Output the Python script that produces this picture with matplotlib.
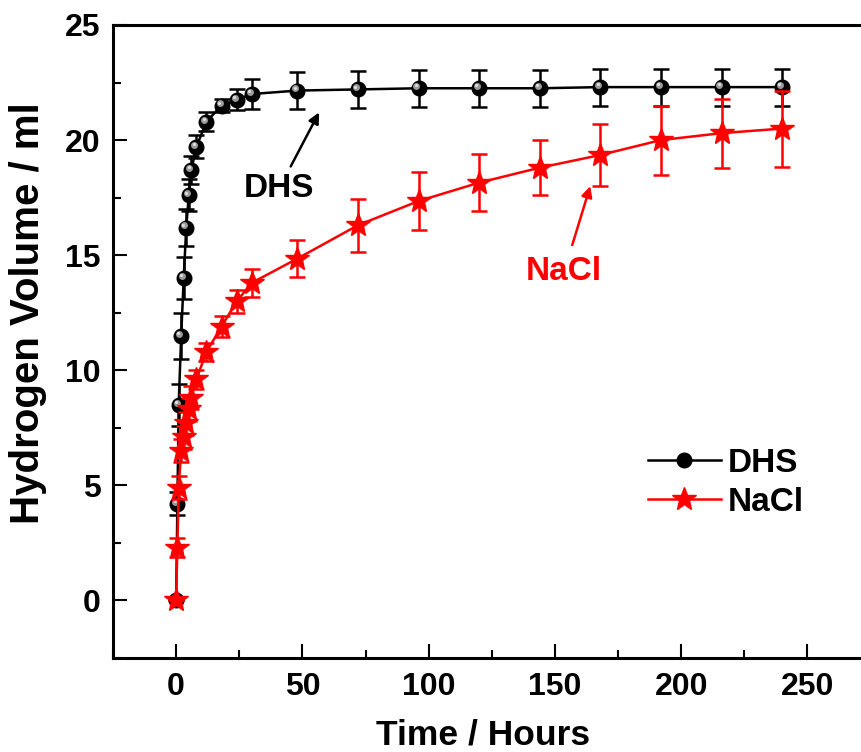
import matplotlib
matplotlib.use("Agg")
import matplotlib.pyplot as plt
from matplotlib.ticker import MultipleLocator
from matplotlib.transforms import offset_copy

plt.rcParams['font.family'] = ['Liberation Sans', 'DejaVu Sans']
plt.rcParams['font.weight'] = 'bold'

time_h = [0, 0.5, 1, 2, 3, 4, 5, 6, 8, 12, 18, 24, 30, 48, 72, 96, 120, 144, 168, 192, 216, 240]
dhs = [0, 4.2, 8.5, 11.5, 14.0, 16.2, 17.6, 18.7, 19.7, 20.8, 21.5, 21.75, 22.0, 22.15,
       22.2, 22.25, 22.25, 22.25, 22.3, 22.3, 22.3, 22.3]
dhs_err = [0, 0.5, 0.9, 1.0, 0.9, 0.8, 0.7, 0.6, 0.5, 0.4, 0.3, 0.45, 0.65, 0.8,
           0.8, 0.8, 0.8, 0.8, 0.8, 0.8, 0.8, 0.8]
nacl = [0, 2.3, 4.9, 6.5, 7.1, 7.7, 8.3, 8.8, 9.6, 10.8, 11.9, 13.0, 13.8, 14.85,
        16.3, 17.35, 18.15, 18.8, 19.35, 20.0, 20.3, 20.5]
nacl_err = [0, 0.4, 0.5, 0.5, 0.5, 0.5, 0.5, 0.5, 0.4, 0.4, 0.45, 0.5, 0.6, 0.8,
            1.15, 1.25, 1.25, 1.2, 1.35, 1.5, 1.5, 1.65]

fig = plt.figure(figsize=(8.62, 7.52), dpi=100)
ax = fig.add_axes([0.1311, 0.125, 0.8788, 0.8418])

# DHS
e1 = ax.errorbar(time_h, dhs, yerr=dhs_err, color='black', lw=1.8, elinewidth=1.8,
                 capsize=5.5, capthick=1.8, marker='o', ms=10.5, mfc='black', mec='black',
                 zorder=3, label='DHS')
tr1 = offset_copy(ax.transData, fig=fig, x=-1.5, y=1.5, units='points')
ax.plot(time_h, dhs, ls='none', marker='o', ms=5, mfc='#9a9a9a', mec='none',
        transform=tr1, zorder=3.1)
tr2 = offset_copy(ax.transData, fig=fig, x=-2.0, y=2.0, units='points')
ax.plot(time_h, dhs, ls='none', marker='o', ms=2.2, mfc='#e0e0e0', mec='none',
        transform=tr2, zorder=3.2)

# NaCl
e2 = ax.errorbar(time_h, nacl, yerr=nacl_err, color='red', lw=1.8, elinewidth=1.8,
                 capsize=5.5, capthick=1.8, marker='*', ms=18, mfc='red', mec='red',
                 zorder=4, label='NaCl')

ax.set_xlim(-25, 275)
ax.set_ylim(-2.5, 25)
ax.xaxis.set_major_locator(MultipleLocator(50))
ax.xaxis.set_minor_locator(MultipleLocator(25))
ax.yaxis.set_major_locator(MultipleLocator(5))
ax.yaxis.set_minor_locator(MultipleLocator(2.5))
ax.tick_params(which='both', direction='in', width=1.5, top=False, right=False)
ax.tick_params(which='major', length=10, labelsize=23)
ax.tick_params(which='minor', length=6)
ax.tick_params(axis='x', pad=10)
ax.tick_params(axis='y', pad=9)
for lab in ax.get_xticklabels() + ax.get_yticklabels():
    lab.set_fontweight('bold')
for s in ax.spines.values():
    s.set_linewidth(2.2)

ax.set_xlabel('Time / Hours', fontsize=25.5, fontweight='bold', va='center')
ax.xaxis.set_label_coords(0.488, -0.122)
ax.set_ylabel('Hydrogen Volume / ml', fontsize=29, fontweight='bold', va='center')
ax.yaxis.set_label_coords(-0.112, 0.545)

ax.annotate('DHS', xy=(56.6, 21.2), xytext=(40.8, 17.9), fontsize=24,
            fontweight='bold', color='black', ha='center', va='center',
            arrowprops=dict(arrowstyle='-|>', color='black', lw=1.8,
                            shrinkA=3, shrinkB=0, mutation_scale=16))
ax.annotate('NaCl', xy=(164, 18.0), xytext=(153.7, 14.3), fontsize=24,
            fontweight='bold', color='red', ha='center', va='center',
            arrowprops=dict(arrowstyle='-|>', color='red', lw=1.8,
                            shrinkA=6, shrinkB=0, mutation_scale=16))

leg = ax.legend([e1[0], e2[0]], ['DHS', 'NaCl'], loc='center left',
                bbox_to_anchor=(0.706, 0.2765), frameon=False, borderpad=0,
                borderaxespad=0, prop={'size': 24, 'weight': 'bold'},
                handlelength=2.2, handletextpad=0.2, labelspacing=0.25)

fig.savefig('out.png', dpi=100)
